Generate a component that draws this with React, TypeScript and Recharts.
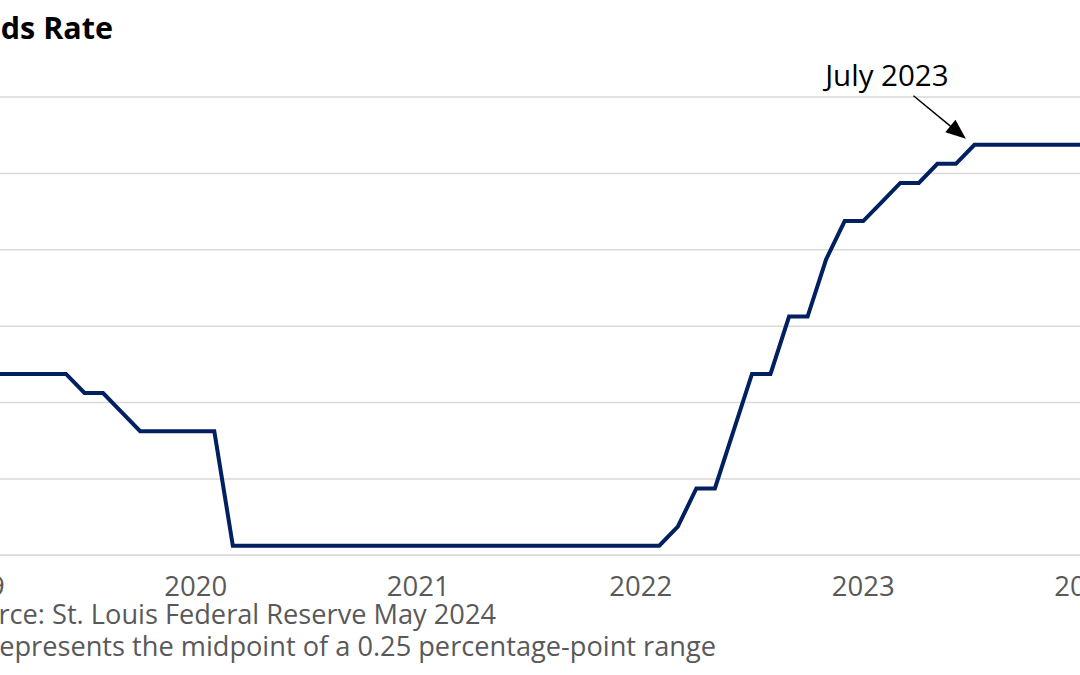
import React from "react";
import { LineChart, Line, XAxis, YAxis, CartesianGrid, ReferenceDot } from "recharts";

// Monthly target-range midpoint, Jan 2019 – Apr 2024
const years = [2019, 2020, 2021, 2022, 2023, 2024];
const monthNames = ["Jan", "Feb", "Mar", "Apr", "May", "Jun", "Jul", "Aug", "Sep", "Oct", "Nov", "Dec"];
const rates2019 = [2.375, 2.375, 2.375, 2.375, 2.375, 2.375, 2.125, 2.125, 1.875, 1.625, 1.625, 1.625];
const rates2020 = [1.625, 1.625, 0.125, 0.125, 0.125, 0.125, 0.125, 0.125, 0.125, 0.125, 0.125, 0.125];
const rates2021 = [0.125, 0.125, 0.125, 0.125, 0.125, 0.125, 0.125, 0.125, 0.125, 0.125, 0.125, 0.125];
const rates2022 = [0.125, 0.125, 0.375, 0.875, 0.875, 1.625, 2.375, 2.375, 3.125, 3.125, 3.875, 4.375];
const rates2023 = [4.375, 4.625, 4.875, 4.875, 5.125, 5.125, 5.375, 5.375, 5.375, 5.375, 5.375, 5.375];
const rates2024 = [5.375, 5.375, 5.375, 5.375];
const yTicks = [0, 1, 2, 3, 4, 5, 6];
const xTicks = [0, 12, 24, 36, 48, 60];
const annotationLabel = "July 2023";
const annotationIndex = 54;

const titleText = "Federal Funds Rate";
const sourceText = "Source: St. Louis Federal Reserve May 2024";
const noteText = "Note: Represents the midpoint of a 0.25 percentage-point range";

const allRates = [...rates2019, ...rates2020, ...rates2021, ...rates2022, ...rates2023, ...rates2024];
const data = allRates.map((rate, i) => ({
  idx: i,
  month: `${monthNames[i % 12]} ${years[Math.floor(i / 12)]}`,
  rate,
}));

const FONT = "'Open Sans', 'Noto Sans', sans-serif";

const YearTick = (props: any) => {
  const { x, y, payload } = props;
  const label = years[Math.round(payload.value / 12)];
  return (
    <text x={x} y={y} dy={41} textAnchor="middle" fill="#595959" fontSize={27.5} fontFamily={FONT}>
      {label}
    </text>
  );
};

const Annotation = (props: any) => {
  const { cx, cy } = props;
  const tipX = cx - 8.6;
  const tipY = cy - 6;
  const tailX = cx - 61;
  const tailY = cy - 49;
  const ang = Math.atan2(tipY - tailY, tipX - tailX);
  const len = 20;
  const half = 8;
  const bx = tipX - len * Math.cos(ang);
  const by = tipY - len * Math.sin(ang);
  const px = -Math.sin(ang) * half;
  const py = Math.cos(ang) * half;
  return (
    <g>
      <line x1={tailX} y1={tailY} x2={bx} y2={by} stroke="#000" strokeWidth={1.5} />
      <polygon points={`${tipX},${tipY} ${bx + px},${by + py} ${bx - px},${by - py}`} fill="#000" />
      <text x={cx - 87.6} y={cy - 58.6} textAnchor="middle" fontSize={29.5} fontFamily={FONT} fill="#000">
        {annotationLabel}
      </text>
    </g>
  );
};

export default function App() {
  return (
    <div
      style={{
        position: "fixed",
        left: 0,
        top: 0,
        width: 1080,
        height: 675,
        overflow: "hidden",
        background: "#fff",
      }}
    >
      <div style={{ position: "absolute", left: -100, top: 0 }}>
        <LineChart
          width={1261}
          height={675}
          data={data}
          margin={{ top: 97, right: 10.4, left: 4, bottom: 79.7 }}
        >
          <CartesianGrid vertical={false} stroke="#d9d9d9" strokeWidth={1.5} />
          <XAxis
            dataKey="idx"
            type="number"
            domain={[-0.5, allRates.length - 0.5]}
            ticks={xTicks}
            interval={0}
            tick={<YearTick />}
            tickLine={false}
            tickSize={0}
            tickMargin={0}
            axisLine={{ stroke: "#d9d9d9", strokeWidth: 1.5 }}
            height={40}
          />
          <YAxis
            type="number"
            domain={[0, 6]}
            ticks={yTicks}
            tickFormatter={(v: number) => `${v}%`}
            axisLine={false}
            tickLine={false}
            width={60}
            tick={{ fill: "#595959", fontSize: 26, fontFamily: FONT }}
          />
          <Line
            type="linear"
            dataKey="rate"
            stroke="#002060"
            strokeWidth={4}
            dot={false}
            activeDot={false}
            isAnimationActive={false}
          />
          <ReferenceDot
            x={annotationIndex}
            y={allRates[annotationIndex]}
            shape={<Annotation />}
            ifOverflow="visible"
          />
        </LineChart>
      </div>
      <svg width={1080} height={675} style={{ position: "absolute", left: 0, top: 0, pointerEvents: "none" }}>
        <text x={113} y={39.3} textAnchor="end" fontSize={30.5} fontWeight="bold" fontFamily={FONT} fill="#000">
          {titleText}
        </text>
        <text x={496} y={624} textAnchor="end" fontSize={27.2} fontFamily={FONT} fill="#595959">
          {sourceText}
        </text>
        <text x={716} y={656} textAnchor="end" fontSize={27.2} fontFamily={FONT} fill="#595959">
          {noteText}
        </text>
      </svg>
    </div>
  );
}
